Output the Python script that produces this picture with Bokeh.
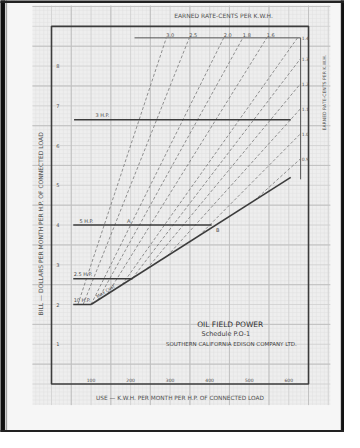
import numpy as np
from bokeh.plotting import figure
from bokeh.models import Range1d
from bokeh.core.properties import value
from bokeh.embed import file_html
from bokeh.resources import INLINE

# ---------------- data ----------------
x_ticks = [100, 200, 300, 400, 500, 600]
y_ticks = [1, 2, 3, 4, 5, 6, 7, 8]
hp_labels = ["10 H.P.", "2.5 H.P.", "5 H.P.", "3 H.P."]
hp_bill = [2.0, 2.65, 4.0, 6.65]
hp_start = [55, 55, 55, 57]
hp_end = [100, 205, 405, 605]
max_cost_use = [100, 605]
max_cost_bill = [2.0, 5.2]
top_rates = [3.0, 2.5, 2.0, 1.8, 1.6]
side_rates = [1.4, 1.3, 1.2, 1.1, 1.0, 0.9]
point_labels = ["A", "B"]
point_use = [195, 405]

# ---------------- layout constants ----------------
X_MAX, Y_MAX = 650, 9
RATE_TOP, RATE_RIGHT, RATE_LEFT, RATE_LOW = 8.71, 630, 210, 5.15
FONT = value("DejaVu Sans")
INK = "#3c3c3c"
TXT = "#505050"

p = figure(width=344, height=432, output_backend="svg", toolbar_location=None,
           x_range=Range1d(-129, 741), y_range=Range1d(-1.22, 9.65),
           x_axis_type=None, y_axis_type=None, min_border=0)
p.outline_line_color = None
p.background_fill_color = "#f6f6f6"
p.border_fill_color = "#f6f6f6"

# photo border
p.quad(left=[-140], right=[-119], bottom=[-2], top=[10], color="#111111")
p.quad(left=[-115], right=[-113.5], bottom=[-2], top=[10], color="#a0a0a0")
p.quad(left=[733], right=[745], bottom=[-2], top=[10], color="#111111")
p.quad(left=[-140], right=[745], bottom=[9.6], top=[10], color="#222222")
p.quad(left=[-140], right=[745], bottom=[-1.3], top=[-1.17], color="#222222")

# graph paper
PL, PR, PB, PT = -48, 705, -0.53, 9.52
p.quad(left=[PL], right=[PR], bottom=[PB], top=[PT], fill_color="#eeeeee", line_color=None)
fx = np.arange(-40, PR, 10)
fy = np.round(np.arange(-0.5, PT, 0.1), 2)
p.segment(x0=fx, x1=fx, y0=PB, y1=PT, line_color="#e0e0e0", line_width=0.5)
p.segment(x0=PL, x1=PR, y0=fy, y1=fy, line_color="#e0e0e0", line_width=0.5)
mx = np.arange(0, PR, 50)
my = np.arange(0.0, PT, 0.5)
p.segment(x0=mx, x1=mx, y0=PB, y1=PT, line_color="#d0d0d0", line_width=0.8)
p.segment(x0=PL, x1=PR, y0=my, y1=my, line_color="#d0d0d0", line_width=0.8)
dx = np.arange(50, PR, 100)
dy = np.arange(0.5, PT, 1.0)
p.segment(x0=dx, x1=dx, y0=PB, y1=PT, line_color="#c0c0c0", line_width=0.9)
p.segment(x0=PL, x1=PR, y0=dy, y1=dy, line_color="#c0c0c0", line_width=0.9)

# chart frame
p.quad(left=[0], right=[X_MAX], bottom=[0], top=[Y_MAX], fill_color=None,
       line_color=INK, line_width=1.6)
# inner rate box
p.line([RATE_LEFT, RATE_RIGHT, RATE_RIGHT], [RATE_TOP, RATE_TOP, RATE_LOW],
       line_color="#555555", line_width=1)

# earned-rate dashed lines
m = (max_cost_bill[1] - max_cost_bill[0]) / (max_cost_use[1] - max_cost_use[0])
rates = top_rates + side_rates
xs, ys = [], []
for r in rates:
    s = r / 100.0
    x0 = (max_cost_bill[0] - m * max_cost_use[0]) / (s - m)
    if x0 < max_cost_use[0]:
        x0 = hp_bill[0] / s
    x1 = min(RATE_RIGHT, RATE_TOP / s)
    xs.append([x0, x1])
    ys.append([s * x0, s * x1])
p.multi_line(xs, ys, line_color="#777777", line_width=0.8, line_dash="3 2")

# rate labels
p.text(x=[RATE_TOP / (r / 100.0) for r in top_rates], y=[RATE_TOP] * len(top_rates),
       text=[f"{r:.1f}" for r in top_rates], x_offset=4, y_offset=-1,
       text_font=FONT, text_font_size="5px", text_color=TXT,
       text_align="center", text_baseline="bottom")
p.text(x=[642] * len(side_rates),
       y=[min(RATE_TOP, r / 100.0 * RATE_RIGHT) for r in side_rates],
       text=[f"{r:.1f}" for r in side_rates],
       text_font=FONT, text_font_size="4.5px", text_color=TXT,
       text_align="center", text_baseline="middle")

# H.P. lines and max cost line
p.segment(x0=hp_start, x1=hp_end, y0=hp_bill, y1=hp_bill, line_color=INK, line_width=1.6)
p.line(max_cost_use, max_cost_bill, line_color=INK, line_width=1.6)

p.text(x=[56, 56, 71, 111], y=hp_bill, text=hp_labels, y_offset=-1.5,
       text_font=FONT, text_font_size="5px", text_color=TXT,
       text_align="left", text_baseline="bottom")
p.text(x=[point_use[0]], y=[hp_bill[2]], text=[point_labels[0]], y_offset=-1,
       text_font=FONT, text_font_size="5px", text_color=TXT,
       text_align="center", text_baseline="bottom")
p.text(x=[point_use[1]], y=[hp_bill[2]], text=[point_labels[1]], x_offset=6, y_offset=2,
       text_font=FONT, text_font_size="5px", text_color=TXT,
       text_align="center", text_baseline="top")
p.text(x=[140], y=[max_cost_bill[0] + m * (140 - max_cost_use[0])], text=["Max Cost"],
       angle=0.567, y_offset=-1, text_font=FONT, text_font_size="4.5px",
       text_color=TXT, text_align="center", text_baseline="bottom")

# tick labels
p.text(x=x_ticks, y=[0.1] * len(x_ticks), text=[str(t) for t in x_ticks],
       text_font=FONT, text_font_size="4.5px", text_color=TXT,
       text_align="center", text_baseline="middle")
p.text(x=[16] * len(y_ticks), y=y_ticks, text=[str(t) for t in y_ticks],
       text_font=FONT, text_font_size="5px", text_color=TXT,
       text_align="center", text_baseline="middle")

# titles
p.text(x=[435], y=[9.27], text=["EARNED RATE-CENTS PER K.W.H."],
       text_font=FONT, text_font_size="6px", text_color=TXT,
       text_align="center", text_baseline="middle")
p.text(x=[691], y=[7.33], text=["EARNED RATE-CENTS PER K.W.H."], angle=np.pi / 2,
       text_font=FONT, text_font_size="4.6px", text_color=TXT,
       text_align="center", text_baseline="middle")
p.text(x=[-27], y=[4.03], text=["BILL — DOLLARS PER MONTH PER H.P. OF CONNECTED LOAD"],
       angle=np.pi / 2, text_font=FONT, text_font_size="6px", text_color=TXT,
       text_align="center", text_baseline="middle")
p.text(x=[325], y=[-0.34], text=["USE — K.W.H. PER MONTH PER H.P. OF CONNECTED LOAD"],
       text_font=FONT, text_font_size="5.8px", text_color=TXT,
       text_align="center", text_baseline="middle")

# title block
p.text(x=[452], y=[1.5], text=["OIL FIELD POWER"], text_font=FONT,
       text_font_size="7.5px", text_color="#303030", text_align="center",
       text_baseline="middle")
p.text(x=[441], y=[1.27], text=["Schedule P.O-1"], text_font=FONT,
       text_font_size="6.5px", text_color="#404040", text_align="center",
       text_baseline="middle")
p.text(x=[455], y=[1.0], text=["SOUTHERN CALIFORNIA EDISON COMPANY LTD."], text_font=FONT,
       text_font_size="5.5px", text_color="#404040", text_align="center",
       text_baseline="middle")

open("out.html", "w").write(file_html(p, INLINE))
